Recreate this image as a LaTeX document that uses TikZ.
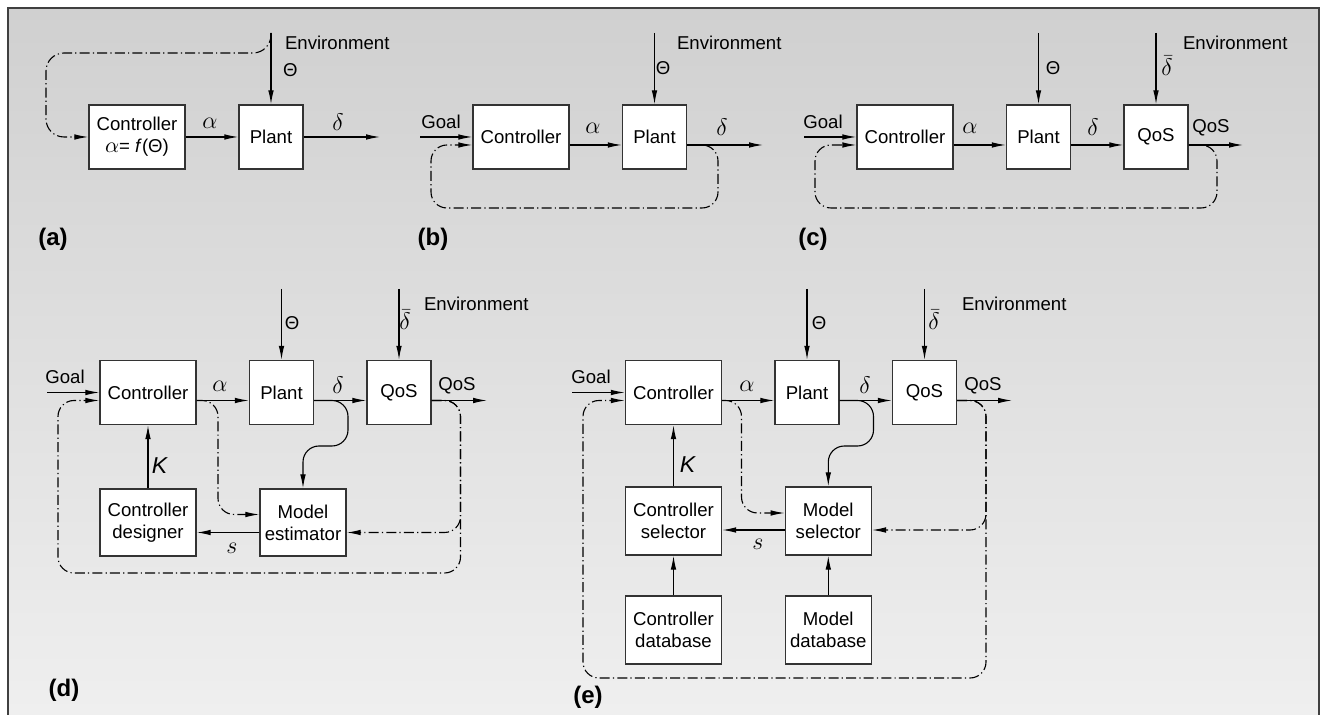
\documentclass[tikz,border=0pt]{standalone}
\usepackage{fontspec}
\setmainfont{Liberation Sans}
\usetikzlibrary{arrows.meta}
\definecolor{bgtop}{RGB}{208,208,208}
\definecolor{bgbot}{RGB}{239,239,239}
\tikzstyle{blk}=[draw=black!80, fill=white, line width=0.7pt, minimum width=48pt, minimum height=32pt, inner sep=1pt, align=center]
\tikzstyle{sig}=[-{Latex[length=7pt,width=2.8pt]}, line width=0.55pt]
\tikzstyle{fb}=[sig, dash pattern=on 5pt off 1.6pt on 0.6pt off 1.6pt, rounded corners=8pt]
\tikzstyle{sym}=[inner sep=1pt, font=\fontsize{11.5}{13}\selectfont]
\tikzstyle{tag}=[font=\bfseries\fontsize{12}{14}\selectfont]
\begin{document}
\begin{tikzpicture}[x=0.5pt, y=-0.5pt, font=\fontsize{9.3}{11}\selectfont]
\useasboundingbox (0,0) rectangle (1323,715);
% Frame
    \shade[top color=bgtop, bottom color=bgbot] (8,8) rectangle (1319,715);
    \draw[black!75, line width=0.8pt] (8,715) -- (8,8) -- (1319,8) -- (1319,715);
% Panel a
    \node[blk] (actrl) at (137,137) {Controller\\{\fontsize{11}{11}\selectfont$\alpha$}= \textit{f}(Θ)};
    \node[blk, minimum width=32pt] (aplant) at (271,137) {Plant};
    \coordinate (aenv) at (271,33);
    \coordinate (aout) at (380,137);
    \draw[sig] (aenv) -- (aplant);
    \draw[sig] (actrl) -- (aplant);
    \draw[sig] (aplant) -- (aout);
    \draw[fb, rounded corners=9pt] (aenv) |- ++(-225,20) |- (actrl);
    \node[sym] (aalpha) at (210,123) {$\alpha$};
    \node[sym] (adelta) at (338,122) {$\delta$};
    \node[anchor=west] (aenvt) at (278,43) {Environment};
    \node[anchor=west] (atheta) at (276,70) {Θ};
    \node[tag] (atag) at (53,239) {(a)};
% Panel b
    \node[blk] (bctrl) at (521,137) {Controller};
    \node[blk, minimum width=32pt] (bplant) at (654.5,137) {Plant};
    \coordinate (bgoal) at (420,137);
    \coordinate (benv) at (654.5,33);
    \coordinate (bout) at (763,145);
    \coordinate (bbr) at (718,208);
    \coordinate (bbl) at (431,208);
    \draw[sig] (bgoal) -- (bctrl);
    \draw[sig] ([yshift=-4pt]bctrl.east) -- ([yshift=-4pt]bplant.west);
    \draw[sig] ([yshift=-4pt]bplant.east) -- (bout);
    \draw[sig] (benv) -- (bplant);
    \draw[fb] ([yshift=-4pt]bplant.east) -| (bbr) -- (bbl) |- ([yshift=-4pt]bctrl.west);
    \node (bgoalt) at (441,122) {Goal};
    \node[sym] (balpha) at (593,128) {$\alpha$};
    \node[sym] (bdelta) at (722,127) {$\delta$};
    \node[anchor=west] (benvt) at (670,43) {Environment};
    \node (btheta) at (663,68) {Θ};
    \node[tag] (btag) at (433,239) {(b)};
% Panel c
    \node[blk] (cctrl) at (905,137) {Controller};
    \node[blk, minimum width=32pt] (cplant) at (1038.5,137) {Plant};
    \node[blk, minimum width=32pt] (cqos) at (1156,137) {QoS};
    \coordinate (cgoal) at (804,137);
    \coordinate (cenv1) at (1038.5,33);
    \coordinate (cenv2) at (1156,33);
    \coordinate (cout) at (1243,145);
    \coordinate (cbr) at (1217,208);
    \coordinate (cbl) at (815,208);
    \draw[sig] (cgoal) -- (cctrl);
    \draw[sig] ([yshift=-4pt]cctrl.east) -- ([yshift=-4pt]cplant.west);
    \draw[sig] ([yshift=-4pt]cplant.east) -- ([yshift=-4pt]cqos.west);
    \draw[sig] ([yshift=-4pt]cqos.east) -- (cout);
    \draw[sig] (cenv1) -- (cplant);
    \draw[sig] (cenv2) -- (cqos);
    \draw[fb] ([yshift=-4pt]cqos.east) -| (cbr) -- (cbl) |- ([yshift=-4pt]cctrl.west);
    \node (cgoalt) at (823,122) {Goal};
    \node[sym] (calpha) at (970,128) {$\alpha$};
    \node[sym] (cdelta) at (1093,127) {$\delta$};
    \node (cqost) at (1211,128) {QoS};
    \node (ctheta) at (1053,68) {Θ};
    \node[sym] (cdbar) at (1167,66) {$\bar{\delta}$};
    \node[anchor=west] (cenvt) at (1176,43) {Environment};
    \node[tag] (ctag) at (813,239) {(c)};
% Panel d
    \node[blk] (dctrl) at (148,392.5) {Controller};
    \node[blk, minimum width=32pt] (dplant) at (281.5,392.5) {Plant};
    \node[blk, minimum width=32pt] (dqos) at (399,392.5) {QoS};
    \node[blk, minimum height=33.5pt] (ddesign) at (148,522.5) {Controller\\designer};
    \node[blk, minimum width=43pt, minimum height=33.5pt] (dmodel) at (303,522.5) {Model\\estimator};
    \coordinate (dgoal) at (47,392.5);
    \coordinate (denv1) at (281.5,289);
    \coordinate (denv2) at (399,289);
    \coordinate (dout) at (487,400.5);
    \coordinate (dbend) at (348,446);
    \coordinate (dtap) at (218,460);
    \coordinate (dtap2) at (460.5,500);
    \coordinate (dbr) at (460.5,573);
    \coordinate (dbl) at (58,573);
    \draw[sig] (dgoal) -- (dctrl);
    \draw[sig] ([yshift=-4pt]dctrl.east) -- ([yshift=-4pt]dplant.west);
    \draw[sig] ([yshift=-4pt]dplant.east) -- ([yshift=-4pt]dqos.west);
    \draw[sig] ([yshift=-4pt]dqos.east) -- (dout);
    \draw[sig] (denv1) -- (dplant);
    \draw[sig] (denv2) -- (dqos);
    \draw[sig] (ddesign) -- (dctrl);
    \draw[sig] ([yshift=-5pt]dmodel.west) -- ([yshift=-5pt]ddesign.east);
    \draw[sig, rounded corners=8pt] ([yshift=-4pt]dplant.east) -| (dbend) -| (dmodel);
    \draw[fb] ([yshift=-4pt]dctrl.east) -| (dtap) |- ([yshift=4pt]dmodel.west);
    \draw[fb] ([yshift=-4pt]dqos.east) -| (dtap2) |- ([yshift=-5pt]dmodel.east);
    \draw[fb] ([yshift=-4pt]dqos.east) -| (dbr) -- (dbl) |- ([yshift=-4pt]dctrl.west);
    \node (dgoalt) at (65,377) {Goal};
    \node[sym] (dalpha) at (220,386) {$\alpha$};
    \node[sym] (ddelta) at (338,385) {$\delta$};
    \node (dqost) at (457,386) {QoS};
    \node (dtheta) at (292,323) {Θ};
    \node[sym] (ddbar) at (405,320) {$\bar{\delta}$};
    \node[anchor=west] (denvt) at (417,304) {Environment};
    \node[sym] (dk) at (160,466) {\textit{K}};
    \node[sym] (ds) at (232,548) {$s$};
    \node[tag] (dtag) at (64,690) {(d)};
% Panel e
    \node[blk] (ectrl) at (673.5,392.5) {Controller};
    \node[blk, minimum width=32pt] (eplant) at (807,392.5) {Plant};
    \node[blk, minimum width=32pt] (eqos) at (924.5,392.5) {QoS};
    \node[blk, minimum height=34pt] (esel) at (673.5,521) {Controller\\selector};
    \node[blk, minimum width=43pt, minimum height=34pt] (emsel) at (828.3,521) {Model\\selector};
    \node[blk, minimum height=34pt] (edb) at (673.5,630) {Controller\\database};
    \node[blk, minimum width=43pt, minimum height=34pt] (emdb) at (828.3,630) {Model\\database};
    \coordinate (egoal) at (572,392.5);
    \coordinate (eenv1) at (807,289);
    \coordinate (eenv2) at (924.5,289);
    \coordinate (eout) at (1012,400.5);
    \coordinate (ebend) at (873.5,446);
    \coordinate (etap) at (741.5,460);
    \coordinate (etap2) at (986,500);
    \coordinate (ebr) at (986,678);
    \coordinate (ebl) at (583,678);
    \draw[sig] (egoal) -- (ectrl);
    \draw[sig] ([yshift=-4pt]ectrl.east) -- ([yshift=-4pt]eplant.west);
    \draw[sig] ([yshift=-4pt]eplant.east) -- ([yshift=-4pt]eqos.west);
    \draw[sig] ([yshift=-4pt]eqos.east) -- (eout);
    \draw[sig] (eenv1) -- (eplant);
    \draw[sig] (eenv2) -- (eqos);
    \draw[sig] (esel) -- (ectrl);
    \draw[sig] (edb) -- (esel);
    \draw[sig] (emdb) -- (emsel);
    \draw[sig] ([yshift=-4.5pt]emsel.west) -- ([yshift=-4.5pt]esel.east);
    \draw[sig, rounded corners=8pt] ([yshift=-4pt]eplant.east) -| (ebend) -| (emsel);
    \draw[fb] ([yshift=-4pt]ectrl.east) -| (etap) |- ([yshift=4pt]emsel.west);
    \draw[fb] ([yshift=-4pt]eqos.east) -| (etap2) |- ([yshift=-4.5pt]emsel.east);
    \draw[fb] ([yshift=-4pt]eqos.east) -| (ebr) -- (ebl) |- ([yshift=-4pt]ectrl.west);
    \node (egoalt) at (591,377) {Goal};
    \node[sym] (ealpha) at (747,386) {$\alpha$};
    \node[sym] (edelta) at (865,385) {$\delta$};
    \node (eqost) at (983,386) {QoS};
    \node (etheta) at (819,323) {Θ};
    \node[sym] (edbar) at (934,320) {$\bar{\delta}$};
    \node[anchor=west] (eenvt) at (955,304) {Environment};
    \node[sym] (ek) at (688,465) {\textit{K}};
    \node[sym] (es) at (758,544) {$s$};
    \node[tag] (etag) at (588,697) {(e)};
\end{tikzpicture}
\end{document}
